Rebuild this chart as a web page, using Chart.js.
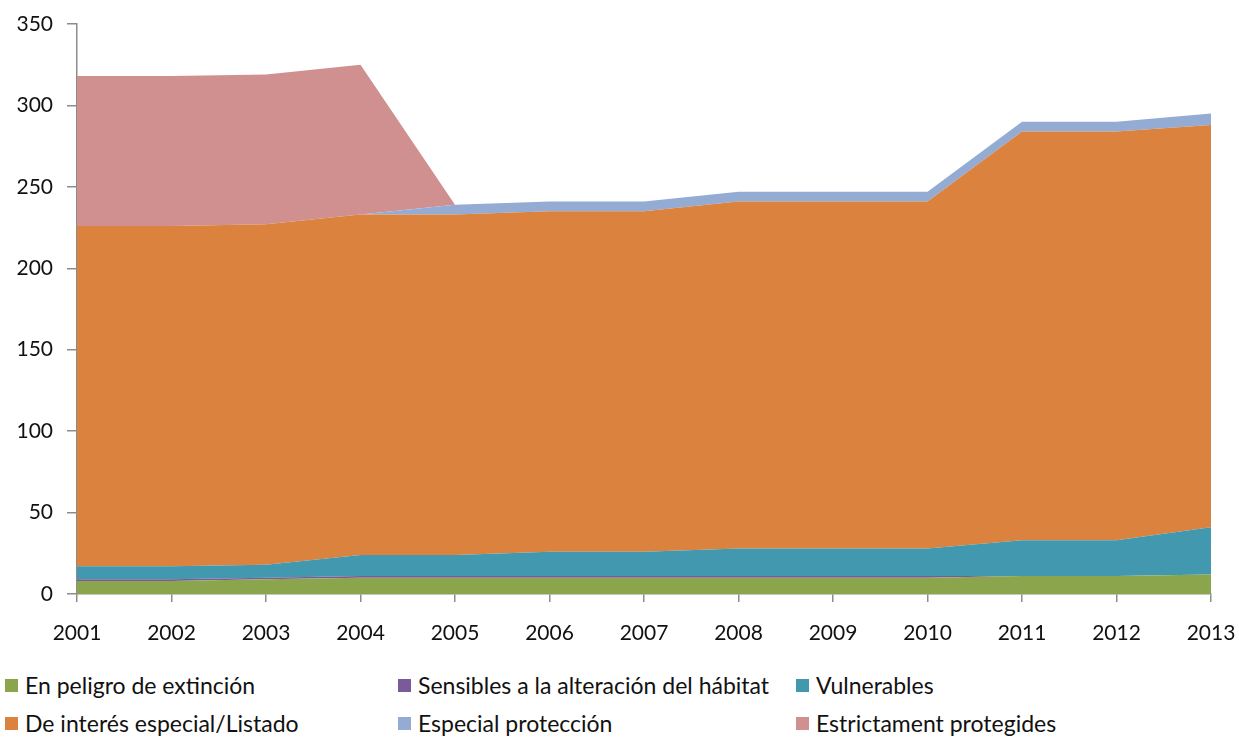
<!DOCTYPE html>
<html>
<head>
<meta charset="utf-8">
<script src="https://cdn.jsdelivr.net/npm/chart.js@4"></script>
<style>
    body { margin: 0; background: #fff; font-family: Lato, sans-serif; }
    #wrap { position: relative; width: 1239px; height: 660px; }
    .legend { position: absolute; left: 0; top: 671px; width: 1239px; font-size: 23px; color: #111; }
    .item { position: absolute; display: flex; align-items: center; white-space: nowrap; }
    .item i { display: inline-block; width: 13px; height: 13px; margin-right: 7px; }
</style>
</head>
<body>
<div id="wrap"><canvas id="chart" width="1239" height="660"></canvas></div>
<div class="legend" id="legend"></div>
<script>
// Data
const years = ['2001','2002','2003','2004','2005','2006','2007','2008','2009','2010','2011','2012','2013'];
const peligro     = [8, 8, 9, 10, 10, 10, 10, 10, 10, 10, 11, 11, 12];
const sensibles   = [1, 1, 1, 1, 1, 1, 1, 1, 1, 1, 0, 0, 0];
const vulnerables = [8, 8, 8, 13, 13, 15, 15, 17, 17, 17, 22, 22, 29];
const interes     = [209, 209, 209, 209, 209, 209, 209, 213, 213, 213, 251, 251, 247];
const especial    = [0, 0, 0, 0, 6, 6, 6, 6, 6, 6, 6, 6, 7];
const estrictament = [92, 92, 92, 92, 0, 0, 0, 0, 0, 0, 0, 0, 0];
const yTicks = [0, 50, 100, 150, 200, 250, 300, 350];

const series = [
    { label: 'En peligro de extinción', data: peligro, color: '#8ba54d' },
    { label: 'Sensibles a la alteración del hábitat', data: sensibles, color: '#7b5a9a' },
    { label: 'Vulnerables', data: vulnerables, color: '#4298ae' },
    { label: 'De interés especial/Listado', data: interes, color: '#db823e' },
    { label: 'Especial protección', data: especial, color: '#94acd3' },
    { label: 'Estrictament protegides', data: estrictament, color: '#d19090' }
];

// Legend positions (3 columns, 2 rows)
const legendPos = [[5, 0], [398, 0], [796, 0], [5, 38], [398, 38], [796, 38]];
const legendEl = document.getElementById('legend');
legendEl.innerHTML = series.map((s, i) => `
    <div class="item" style="left:${legendPos[i][0]}px;top:${legendPos[i][1]}px">
        <i style="background:${s.color}"></i>${s.label}
    </div>`).join('');

const axisColor = '#8c8c8c';
const font = { family: 'Lato, sans-serif', size: 21 };

new Chart(document.getElementById('chart'), {
    type: 'line',
    data: {
        labels: years,
        datasets: series.map((s, i) => ({
            label: s.label,
            data: s.data,
            backgroundColor: s.color,
            borderColor: s.color,
            borderWidth: 0,
            pointRadius: 0,
            tension: 0,
            fill: i === 0 ? 'origin' : '-1'
        }))
    },
    options: {
        responsive: false,
        animation: false,
        layout: { padding: { top: 24, right: 28, left: 0, bottom: 0 } },
        plugins: { legend: { display: false }, tooltip: { enabled: false } },
        scales: {
            x: {
                offset: false,
                grid: { drawOnChartArea: false, drawTicks: true, tickLength: 8, color: axisColor, lineWidth: 1.5 },
                border: { color: axisColor, width: 1.5 },
                ticks: { color: '#111', font, padding: 19, maxRotation: 0, autoSkip: false },
                afterFit: s => { s.height = 66; s.paddingLeft = 0; s.paddingRight = 0; }
            },
            y: {
                stacked: true,
                min: 0,
                max: 350,
                afterBuildTicks: s => { s.ticks = yTicks.map(v => ({ value: v })); },
                grid: { drawOnChartArea: false, drawTicks: true, tickLength: 10, color: axisColor, lineWidth: 1.5 },
                border: { color: axisColor, width: 1.5 },
                ticks: { color: '#111', font, padding: 14 },
                afterFit: s => { s.width = 77; s.paddingTop = 0; s.paddingBottom = 0; }
            }
        }
    }
});
</script>
</body>
</html>
